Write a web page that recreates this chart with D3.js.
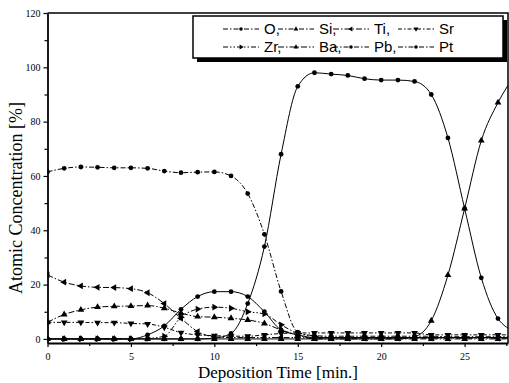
<!DOCTYPE html>
<html>
<head>
<meta charset="utf-8">
<script src="https://cdn.jsdelivr.net/npm/d3@7"></script>
<style>
body { margin: 0; background: #fff; }
svg { display: block; }
svg text.serif, svg .tick text { font-family: "Liberation Serif", "Times New Roman", Times, serif; }
svg text.sans { font-family: "Liberation Sans", Arial, Helvetica, sans-serif; }
</style>
</head>
<body>
<svg id="chart" width="509" height="383"></svg>
<script>
// deposition time (min), one sample per minute
var times = d3.range(0, 29);

// atomic concentration (%)
var O  = [61.5, 62.8, 63.3, 63.2, 63, 63, 62.8, 61.8, 61.2, 61.4, 61.5, 60, 53.5, 38.5, 17.5, 2.5, 1.2, 1, 1, 1, 1, 1, 1, 1, 0.8, 0.8, 0.8, 0.8, 0.8];
var Si = [0, 0, 0, 0, 0, 0, 0, 0, 0, 0, 0, 0, 0, 0, 0, 0, 0, 0, 0, 0, 0, 0, 0.8, 6.7, 23.5, 48, 73, 87, 97];
var Ti = [23.6, 20.9, 19.5, 19, 18.9, 18.5, 17, 13, 7.6, 2.7, 0.8, 0.5, 0.5, 0.5, 0.5, 0.5, 0.3, 0.3, 0.3, 0.3, 0.3, 0.3, 0.3, 0.3, 0.3, 0.3, 0.3, 0.3, 0.3];
var Sr = [6.1, 6.1, 6.1, 6, 6, 5.7, 5.5, 4.3, 2.3, 1.5, 1.2, 1, 1, 1.5, 2, 2.2, 2.2, 2.2, 2.2, 2.2, 2.2, 2.2, 2.2, 1.5, 1.5, 1.5, 1.5, 1.5, 1.5];
var Zr = [0, 0, 0, 0, 0, 0, 0.2, 1, 8, 11, 11.7, 11.3, 10, 9.2, 5.2, 2.1, 1, 0.5, 0.5, 0.5, 0.5, 0.5, 0.5, 0.5, 0.5, 0.5, 0.5, 0.5, 0.5];
var Ba = [6.1, 9, 10.7, 11.7, 12, 12.1, 12.3, 11.3, 9.5, 8.2, 8, 7.6, 7, 5.7, 3.3, 1.5, 0, 0, 0, 0, 0, 0, 0, 0, 0, 0, 0, 0, 0];
var Pb = [0, 0, 0, 0, 0, 0, 1.5, 4.8, 10.9, 15.6, 17.4, 17.4, 15.6, 10, 3.3, 1.5, 0.5, 0.5, 0.5, 0.5, 0.5, 0.5, 0.5, 0.5, 0.5, 0.5, 0.5, 0.5, 0.5];
var Pt = [0, 0, 0, 0, 0, 0, 0, 0, 0, 0, 0.3, 2, 13, 34, 68, 93, 98, 97.5, 97, 95.8, 95.3, 95.3, 94.8, 90, 74, 48, 22.5, 7.5, 3];

var xTicks = [0, 5, 10, 15, 20, 25];
var yTicks = [0, 20, 40, 60, 80, 100, 120];

// legend order: two rows of four
var series = [
    {name: "O",  values: O,  shape: "circle", rot: 0,   dash: "5,2,1.5,2"},
    {name: "Si", values: Si, shape: "tri",    rot: 0,   dash: null},
    {name: "Ti", values: Ti, shape: "tri",    rot: -90, dash: "6,2,1.5,2"},
    {name: "Sr", values: Sr, shape: "tri",    rot: 180, dash: "4,2,1.5,2"},
    {name: "Zr", values: Zr, shape: "tri",    rot: 90,  dash: "5,2,1.5,2,1.5,2"},
    {name: "Ba", values: Ba, shape: "tri",    rot: 0,   dash: "6,2,1.5,2"},
    {name: "Pb", values: Pb, shape: "circle", rot: 0,   dash: null},
    {name: "Pt", values: Pt, shape: "circle", rot: 0,   dash: null}
];

var svg = d3.select("#chart");
var m = {left: 47.5, right: 508, top: 13, bottom: 343};

var x = d3.scaleLinear().domain([0, 27.6]).range([m.left, m.right]);
var y = d3.scaleLinear().domain([-1.5, 120]).range([m.bottom, m.top]);

svg.append("defs").append("clipPath").attr("id", "clip")
    .append("rect")
    .attr("x", m.left).attr("y", m.top)
    .attr("width", m.right - m.left).attr("height", m.bottom - m.top);

// frame (top and right)
svg.append("path")
    .attr("d", "M" + m.left + "," + m.top + "H" + m.right + "V" + m.bottom)
    .attr("fill", "none").attr("stroke", "#000").attr("stroke-width", 1.5);

//------- axes ----------
svg.append("g")
    .attr("transform", "translate(0," + m.bottom + ")")
    .call(d3.axisBottom(x).tickValues(xTicks).tickSize(4).tickPadding(6).tickSizeOuter(0));
svg.append("g")
    .attr("transform", "translate(0," + m.bottom + ")")
    .call(d3.axisBottom(x).tickValues(d3.range(2.5, 27.6, 5)).tickSize(3).tickFormat("").tickSizeOuter(0))
    .select(".domain").remove();

svg.append("g")
    .attr("transform", "translate(" + m.left + ",0)")
    .call(d3.axisLeft(y).tickValues(yTicks).tickSize(4).tickPadding(3).tickSizeOuter(0));
svg.append("g")
    .attr("transform", "translate(" + m.left + ",0)")
    .call(d3.axisLeft(y).tickValues(d3.range(10, 120, 20)).tickSize(3).tickFormat("").tickSizeOuter(0))
    .select(".domain").remove();

svg.selectAll("g").attr("font-family", null);
svg.selectAll(".domain").attr("stroke-width", 1.8);
svg.selectAll(".tick line").attr("stroke-width", 1.2);
svg.selectAll(".tick text")
    .attr("font-size", 10)
    .attr("fill", "#000");

svg.append("text")
    .attr("class", "serif")
    .attr("transform", "translate(22," + ((m.top + m.bottom) / 2 + 20) + ") rotate(-90)")
    .attr("text-anchor", "middle")
    .attr("font-size", 18)
    .text("Atomic Concentration [%]");

svg.append("text")
    .attr("class", "serif")
    .attr("x", 278).attr("y", 378)
    .attr("text-anchor", "middle")
    .attr("font-size", 17)
    .text("Deposition Time [min.]");

//------- curves ----------
function symbolPath(s, size) {
    var type = s.shape == "circle" ? d3.symbolCircle : d3.symbolTriangle;
    return d3.symbol().type(type).size(size)();
}

var plot = svg.append("g").attr("clip-path", "url(#clip)");
var line = d3.line()
    .x(function(d) { return x(d[0]); })
    .y(function(d) { return y(d[1]); })
    .curve(d3.curveMonotoneX);

series.forEach(function(s) {
    var pts = times.map(function(t, i) { return [t, s.values[i]]; });
    plot.append("path")
        .datum(pts)
        .attr("d", line)
        .attr("fill", "none")
        .attr("stroke", "#000")
        .attr("stroke-width", 1)
        .attr("stroke-dasharray", s.dash);
    plot.selectAll(null)
        .data(pts)
        .enter().append("path")
        .attr("d", symbolPath(s, s.shape == "circle" ? 18 : 20))
        .attr("transform", function(d) {
            return "translate(" + x(d[0]) + "," + y(d[1]) + ") rotate(" + s.rot + ")";
        })
        .attr("fill", "#000");
});

//------- legend ----------
var lg = svg.append("g");
var box = {x: 193, y: 16, w: 310, h: 42};
lg.append("rect")
    .attr("x", box.x + 4).attr("y", box.y + 4)
    .attr("width", box.w).attr("height", box.h)
    .attr("fill", "#000");
lg.append("rect")
    .attr("x", box.x).attr("y", box.y)
    .attr("width", box.w).attr("height", box.h)
    .attr("fill", "#fff").attr("stroke", "#000").attr("stroke-width", 1.5);

var colX = [223, 278, 333, 398];
var rowY = [29, 47];
series.forEach(function(s, i) {
    var cx = colX[i % 4], cy = rowY[Math.floor(i / 4)];
    var g = lg.append("g");
    g.append("line")
        .attr("x1", cx).attr("x2", cx + 36)
        .attr("y1", cy).attr("y2", cy)
        .attr("stroke", "#000").attr("stroke-width", 1)
        .attr("stroke-dasharray", s.dash ? s.dash : "5,2,1.5,2");
    g.append("path")
        .attr("d", symbolPath(s, 10))
        .attr("transform", "translate(" + (cx + 18) + "," + cy + ") rotate(" + s.rot + ")")
        .attr("fill", "#000");
    g.append("text")
        .attr("class", "sans")
        .attr("x", cx + 41).attr("y", cy + 5)
        .attr("font-size", 15)
        .text(s.name + (i % 4 == 3 ? "" : ","));
});
</script>
</body>
</html>
